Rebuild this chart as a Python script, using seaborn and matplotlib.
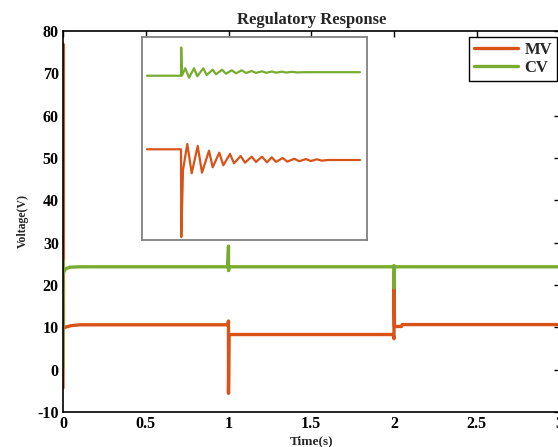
import matplotlib
matplotlib.use("Agg")
import matplotlib.pyplot as plt
import seaborn as sns
import pandas as pd

sns.set_theme(style="white")
plt.rcParams['font.family'] = ['Liberation Serif', 'DejaVu Serif']
plt.rcParams['font.weight'] = 'bold'
plt.rcParams['axes.unicode_minus'] = False

# ---- main series (time in s, voltage in V) ----
mv_t = [0.0, 0.0, 0.003, 0.02, 0.05, 0.10, 0.995, 1.0, 1.0, 1.003, 1.995, 2.0, 2.0, 2.003, 2.045, 2.05, 3.0]
mv_v = [-4.3, 76.9, 9.8, 10.1, 10.4, 10.6, 10.6, 11.5, -5.6, 8.3, 8.3, 7.3, 19.3, 10.2, 10.2, 10.65, 10.65]

cv_t = [0.0, 0.0, 0.005, 0.015, 0.04, 0.10, 0.995, 1.0, 1.0, 1.005, 1.995, 2.0, 2.0, 2.003, 3.0]
cv_v = [0.4, 25.7, 23.1, 23.8, 24.2, 24.3, 24.3, 29.2, 23.4, 24.3, 24.3, 24.6, 19.3, 24.3, 24.3]

# ---- inset (magnified view of the disturbance at t = 1 s) ----
in_mv_t = [-34, 0, 0.3, 2, 6.3, 10.7, 16.7, 21, 28, 31.7, 38.3, 42.3, 49, 53, 59.7, 64,
           70.7, 75, 81, 86, 90.7, 95, 101.7, 106.3, 113.3, 118.3, 125, 129.7, 135.7,
           140.7, 147.3, 179]
in_mv_v = [10.6, 10.6, -10.3, 5.67, 11.86, 4.89, 11.39, 5.03, 10.27, 6.31, 9.79, 6.79,
           9.48, 7.27, 9.0, 7.41, 8.84, 7.58, 8.84, 7.5, 8.70, 7.6, 8.53, 7.65, 8.36, 7.75,
           8.29, 7.8, 8.22, 7.9, 8.05, 8.05]

in_cv_t = [-34, 0, 0.2, 1, 4.3, 8, 13, 16.3, 22.3, 25.7, 31.7, 35, 41, 45, 50.7, 55,
           60.7, 65, 70.7, 75, 81, 85, 91, 95, 101, 105, 111, 116, 124, 179]
in_cv_v = [28.12, 28.12, 34.84, 28.17, 29.89, 27.65, 29.89, 27.98, 29.89, 28.29, 29.55,
           28.46, 29.55, 28.6, 29.41, 28.70, 29.41, 28.77, 29.24, 28.8, 29.17, 28.82,
           29.12, 28.85, 29.08, 28.87, 29.05, 28.9, 28.96, 28.96]

x_ticks = [0, 0.5, 1, 1.5, 2, 2.5, 3]
x_labels = ["0", "0.5", "1", "1.5", "2", "2.5", "3"]
y_ticks = [-10, 0, 10, 20, 30, 40, 50, 60, 70, 80]

MV_C = "#D95319"
CV_C = "#77AC30"

mv_df = pd.DataFrame({"t": mv_t, "v": mv_v})
cv_df = pd.DataFrame({"t": cv_t, "v": cv_v})
in_mv_df = pd.DataFrame({"t": in_mv_t, "v": in_mv_v})
in_cv_df = pd.DataFrame({"t": in_cv_t, "v": in_cv_v})

fig = plt.figure(figsize=(5.58, 4.47), dpi=100)
W, H = 558, 447
ax = fig.add_axes([63 / W, 1 - 412 / H, (559.5 - 63) / W, (412 - 31) / H])

sns.lineplot(data=mv_df, x="t", y="v", ax=ax, sort=False, estimator=None,
             color=MV_C, lw=2.4, label="MV")
sns.lineplot(data=cv_df, x="t", y="v", ax=ax, sort=False, estimator=None,
             color=CV_C, lw=2.4, label="CV")

ax.set_xlim(0, 3)
ax.set_ylim(-10, 80)
ax.set_xticks(x_ticks)
ax.set_xticklabels(x_labels)
ax.set_yticks(y_ticks)
ax.tick_params(direction="in", length=4, width=1, top=True, right=True,
               labelsize=11.5, pad=3, colors="black")
for lab in ax.get_xticklabels() + ax.get_yticklabels():
    lab.set_fontweight("bold")
for s in ax.spines.values():
    s.set_color("black")
    s.set_linewidth(1.2)
ax.set_facecolor("white")

ax.set_title("Regulatory Response", fontsize=12, fontweight="bold", pad=5)
ax.set_xlabel("Time(s)", fontsize=9.5, fontweight="bold", labelpad=2)
ax.set_ylabel("Voltage(V)", fontsize=8.5, fontweight="bold", labelpad=6)

leg = ax.legend(loc="upper right", bbox_to_anchor=(0.995, 0.985), fancybox=False,
                framealpha=1, edgecolor="black", handlelength=2.6, fontsize=12,
                borderpad=0.3, labelspacing=0.12, handletextpad=0.4, borderaxespad=0)
leg.get_frame().set_linewidth(1.0)
for t in leg.get_texts():
    t.set_fontweight("bold")

# inset
axin = fig.add_axes([142 / W, 1 - 240 / H, 225 / W, 203 / H])
sns.lineplot(data=in_mv_df, x="t", y="v", ax=axin, sort=False, estimator=None,
             color=MV_C, lw=1.6, legend=False)
sns.lineplot(data=in_cv_df, x="t", y="v", ax=axin, sort=False, estimator=None,
             color=CV_C, lw=1.6, legend=False)
axin.set_xlim(-39, 186)
axin.set_ylim(-11.0, 37.34)
axin.set_xticks([])
axin.set_yticks([])
axin.set_xlabel("")
axin.set_ylabel("")
axin.set_facecolor("white")
for s in axin.spines.values():
    s.set_color("#808080")
    s.set_linewidth(1.3)

fig.savefig("out.png", dpi=100, facecolor="white")
